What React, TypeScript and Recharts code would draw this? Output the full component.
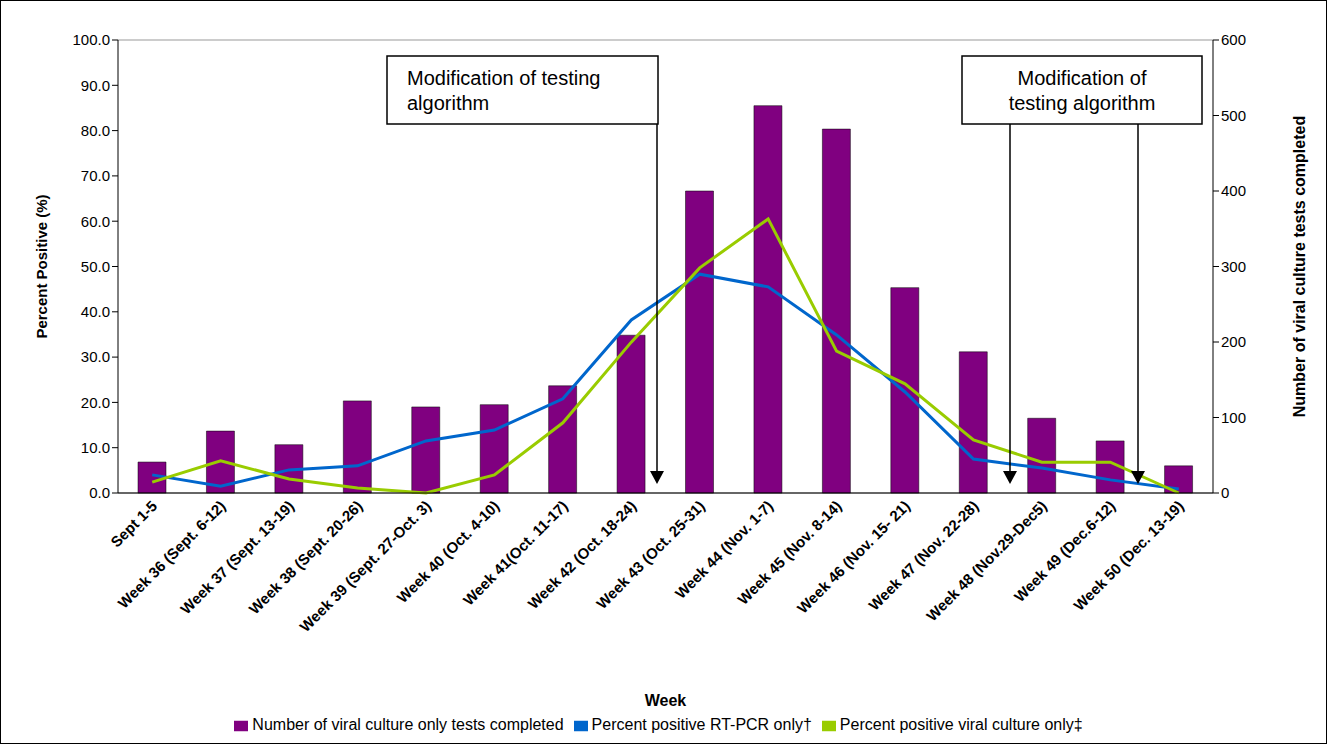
import React from 'react';
import { ComposedChart, Bar, Line, XAxis, YAxis, CartesianGrid, Legend } from 'recharts';

const weeks = ['Sept 1-5','Week 36 (Sept. 6-12)','Week 37 (Sept. 13-19)','Week 38 (Sept. 20-26)','Week 39 (Sept. 27-Oct. 3)','Week 40 (Oct. 4-10)','Week 41(Oct. 11-17)','Week 42 (Oct. 18-24)','Week 43 (Oct. 25-31)','Week 44 (Nov. 1-7)','Week 45 (Nov. 8-14)','Week 46 (Nov. 15- 21)','Week 47 (Nov. 22-28)','Week 48 (Nov.29-Dec5)','Week 49 (Dec.6-12)','Week 50 (Dec. 13-19)'];
const cultureTests = [41,82,64,122,114,117,142,209,400,513,482,272,187,99,69,36];
const rtpcr = [4.0,1.5,5.1,6.0,11.5,13.9,20.8,38.2,48.3,45.5,34.9,22.3,7.5,5.5,2.9,0.9];
const culturePos = [2.4,7.1,3.1,1.1,0,4.0,15.5,33.3,49.7,60.5,31.3,24.1,11.7,6.8,6.8,0];
const leftTicks = [0,10,20,30,40,50,60,70,80,90,100];
const rightTicks = [0,100,200,300,400,500,600];

const data = weeks.map((w, i) => ({ week: w, tests: cultureTests[i], rt: rtpcr[i], cul: culturePos[i] }));
const font = 'Liberation Sans, Arial, sans-serif';

const XTick = (props: any) => {
  const { x, y, payload } = props;
  return (
    <text x={x + 6} y={y + 6} transform={`rotate(-45 ${x + 6} ${y + 6})`} textAnchor="end" fontSize={15} fontWeight="bold" fill="#000" fontFamily={font}>{payload.value}</text>
  );
};

const Arrow = ({ x, y1, y2 }: any) => (
  <g>
    <line x1={x} y1={y1} x2={x} y2={y2 - 12} stroke="#000" strokeWidth={1.5} />
    <polygon points={`${x - 7},${y2 - 13} ${x + 7},${y2 - 13} ${x},${y2}`} fill="#000" />
  </g>
);

export default function App() {
  return (
    <div style={{ position: 'absolute', left: 0, top: 0, width: 1327, height: 744, background: '#fff', fontFamily: font }}>
      <ComposedChart width={1327} height={744} data={data} margin={{ top: 40, right: 0, left: 0, bottom: 4 }}>
        <CartesianGrid vertical={false} stroke="#999" />
        <XAxis dataKey="week" interval={0} tick={<XTick />} height={223} tickLine={false} stroke="#000"
          label={{ value: 'Week', position: 'insideBottom', offset: 10, fontWeight: 'bold', fontSize: 16, fill: '#000' }} />
        <YAxis yAxisId="l" domain={[0, 100]} ticks={leftTicks} width={118} tickFormatter={(v) => v.toFixed(1)} stroke="#000" tick={{ fontSize: 15, fill: '#000' }}
          label={{ value: 'Percent Positive (%)', angle: -90, position: 'insideLeft', offset: 42, fontWeight: 'bold', fontSize: 15, fill: '#000', style: { textAnchor: 'middle' } }} />
        <YAxis yAxisId="r" orientation="right" domain={[0, 600]} ticks={rightTicks} width={114} stroke="#000" tick={{ fontSize: 15, fill: '#000' }}
          label={{ value: 'Number of viral culture tests completed', angle: -90, position: 'insideRight', offset: 28, fontWeight: 'bold', fontSize: 16, fill: '#000', style: { textAnchor: 'middle' } }} />
        <Legend verticalAlign="bottom" height={24} iconType="rect" wrapperStyle={{ fontSize: 16, color: '#000' }}
          formatter={(v) => <span style={{ color: '#000' }}>{v}</span>} />
        <Bar yAxisId="r" dataKey="tests" name="Number of viral culture only tests completed" fill="#800080" stroke="#000" strokeWidth={0.5} barSize={28} isAnimationActive={false} />
        <Line yAxisId="l" dataKey="rt" name="Percent positive RT-PCR only†" stroke="#0066CC" strokeWidth={3} dot={false} type="linear" isAnimationActive={false} />
        <Line yAxisId="l" dataKey="cul" name="Percent positive viral culture only‡" stroke="#99CC00" strokeWidth={3} dot={false} type="linear" isAnimationActive={false} />
      </ComposedChart>
      <svg width={1327} height={744} style={{ position: 'absolute', left: 0, top: 0, pointerEvents: 'none' }}>
        <rect x={0.5} y={0.5} width={1326} height={743} fill="none" stroke="#000" />
        <rect x={387} y={56} width={271} height={68} fill="#fff" stroke="#000" strokeWidth={1.5} />
        <text x={407} y={85} fontSize={20} fontFamily={font}>Modification of testing</text>
        <text x={407} y={110} fontSize={20} fontFamily={font}>algorithm</text>
        <rect x={962} y={56} width={240} height={68} fill="#fff" stroke="#000" strokeWidth={1.5} />
        <text x={1082} y={85} textAnchor="middle" fontSize={20} fontFamily={font}>Modification of</text>
        <text x={1082} y={110} textAnchor="middle" fontSize={20} fontFamily={font}>testing algorithm</text>
        <Arrow x={657} y1={124} y2={484} />
        <Arrow x={1010} y1={124} y2={484} />
        <Arrow x={1138} y1={124} y2={484} />
      </svg>
    </div>
  );
}
